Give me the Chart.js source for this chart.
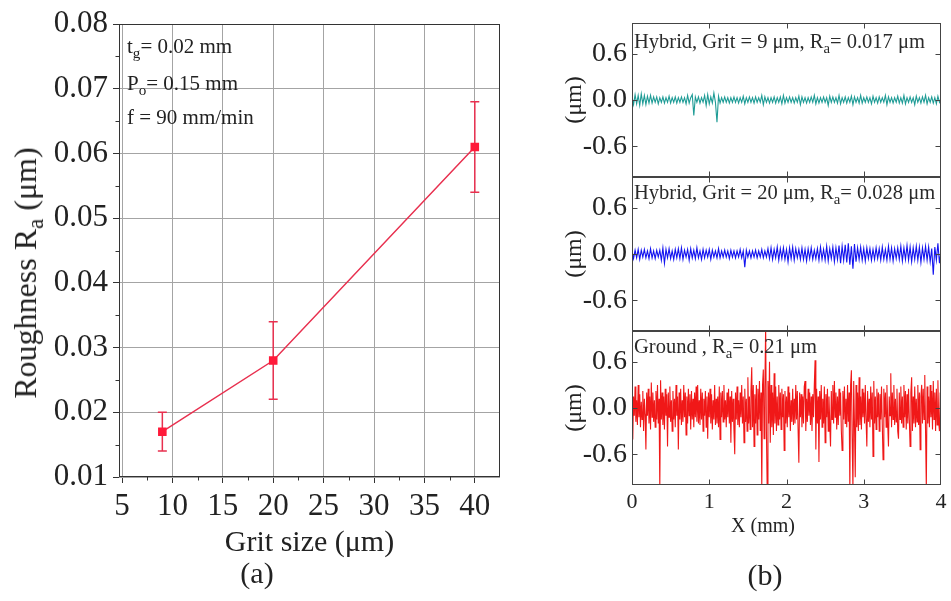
<!DOCTYPE html>
<html>
<head>
<meta charset="utf-8">
<script src="https://cdn.jsdelivr.net/npm/chart.js@4.4.1/dist/chart.umd.min.js"></script>
<style>
html,body{margin:0;padding:0;background:#fff;}
#wrap{position:relative;width:951px;height:601px;overflow:hidden;font-family:'Liberation Serif','Times New Roman',serif;color:#222;}
#wrap canvas{position:absolute;left:0;top:0;}
.t{position:absolute;white-space:nowrap;line-height:1;}
.t sub{font-size:72%;vertical-align:baseline;position:relative;top:0.32em;}
.ann{font-size:21px;left:127px;}
.ptitle{font-size:20.5px;left:634px;color:#2a2a2a;}
</style>
</head>
<body>
<div id="wrap">
  <canvas id="chartA" width="951" height="601"></canvas>
  <canvas id="chartB1" width="951" height="601"></canvas>
  <canvas id="chartB2" width="951" height="601"></canvas>
  <canvas id="chartB3" width="951" height="601"></canvas>

  <div class="t ann" style="top:36px">t<sub>g</sub>= 0.02 mm</div>
  <div class="t ann" style="top:73px">P<sub>o</sub>= 0.15 mm</div>
  <div class="t ann" style="top:107px">f = 90 mm/min</div>
  <div class="t" style="left:25px;top:273px;font-size:32px;transform:translate(-50%,-50%) rotate(-90deg);">Roughness R<sub>a</sub> (μm)</div>
  <div class="t" style="left:257px;top:558px;font-size:30px;transform:translateX(-50%);">(a)</div>

  <div class="t ptitle" style="top:31px">Hybrid, Grit = 9 μm, R<sub>a</sub>= 0.017 μm</div>
  <div class="t ptitle" style="top:182px">Hybrid, Grit = 20 μm, R<sub>a</sub>= 0.028 μm</div>
  <div class="t ptitle" style="top:336px">Ground , R<sub>a</sub>= 0.21 μm</div>
  <div class="t" style="left:763px;top:515px;font-size:20px;transform:translateX(-50%);">X (mm)</div>
  <div class="t" style="left:765px;top:560px;font-size:30px;transform:translateX(-50%);">(b)</div>
</div>
<script>
const FONT = "'Liberation Serif', 'Times New Roman', serif";

// ---- panel (a) data ----
const gritSizes = [9, 20, 40];
const roughnessRa = [0.017, 0.028, 0.061];
const roughnessErr = [0.003, 0.006, 0.007];
const gritTicks = [5, 10, 15, 20, 25, 30, 35, 40];
const gritMinorTicks = [7.5, 12.5, 17.5, 22.5, 27.5, 32.5, 37.5];
const raTicks = [0.01, 0.02, 0.03, 0.04, 0.05, 0.06, 0.07, 0.08];
const raMinorTicks = [0.015, 0.025, 0.035, 0.045, 0.055, 0.065, 0.075];

// ---- panel (b) data ----
const profileXTicks = [0, 1, 2, 3, 4];
const profileInnerXTicks = [1, 2, 3];
const profileYTicks = [-0.6, 0, 0.6];
const hybridStepMm = 0.02;
const groundStepMm = 0.01;

const hybrid9Profile = [
 0.04,-0.06,0.07,-0.05,0.06,-0.07,0.08,-0.05,0.06,-0.06,
 0.05,-0.04,0.06,-0.04,0.04,-0.03,0.04,-0.05,0.03,-0.03,
 0.04,-0.04,0.03,-0.03,0.05,-0.04,0.03,-0.03,0.04,-0.04,
 0.03,-0.03,0.04,-0.03,0.03,-0.05,0.06,-0.04,0.03,0.07,
 -0.2,0.04,-0.03,0.04,-0.04,0.03,-0.03,0.06,-0.07,0.07,
 -0.05,0.04,-0.04,0.09,-0.03,-0.29,0.05,-0.04,0.03,-0.03,
 0.04,-0.03,0.03,-0.04,0.03,-0.03,0.04,-0.03,0.03,-0.04,
 0.03,-0.03,0.05,-0.05,0.03,-0.03,0.04,-0.03,0.03,-0.04,
 0.04,-0.03,0.03,-0.03,0.06,-0.06,0.04,-0.03,0.03,-0.04,
 0.03,-0.03,0.04,-0.04,0.03,-0.03,0.04,-0.05,0.06,-0.04,
 0.03,-0.03,0.04,-0.03,0.03,-0.04,0.03,-0.03,0.05,-0.06,
 0.04,-0.03,0.03,-0.04,0.03,-0.03,0.04,-0.03,0.06,-0.05,
 0.03,-0.04,0.03,-0.03,0.04,-0.03,0.03,-0.07,0.05,-0.03,
 0.04,-0.03,0.03,-0.04,0.06,-0.05,0.03,-0.03,0.04,-0.04,
 0.03,-0.03,0.05,-0.06,0.04,-0.03,0.03,-0.04,0.06,-0.04,
 0.03,-0.03,0.04,-0.03,0.03,-0.05,0.05,-0.03,0.03,-0.04,
 0.04,-0.03,0.03,-0.03,0.06,-0.06,0.04,-0.03,0.03,-0.04,
 0.03,-0.03,0.05,-0.04,0.03,-0.04,0.06,-0.05,0.03,-0.03,
 0.04,-0.03,0.03,-0.06,0.05,-0.03,0.03,-0.04,0.04,-0.03,
 0.06,-0.05,0.03,-0.03,0.04,-0.04,0.03,-0.05,0.05,-0.03,
 0.02
];

const hybrid20Profile = [
 0.04,-0.06,0.05,-0.05,0.06,-0.07,0.05,-0.04,0.06,-0.05,
 0.04,-0.06,0.07,-0.05,0.04,-0.06,0.05,-0.04,0.05,-0.08,
 0.08,-0.12,0.06,-0.05,0.07,-0.06,0.04,-0.07,0.06,-0.05,
 0.07,-0.06,0.08,-0.07,0.05,-0.04,0.06,-0.08,0.07,-0.05,
 0.05,-0.06,0.08,-0.05,0.04,-0.07,0.06,-0.05,0.05,-0.04,
 0.06,-0.07,0.05,-0.04,0.04,-0.05,0.07,-0.05,0.04,-0.04,
 0.05,-0.04,0.04,-0.06,0.05,-0.04,0.04,-0.05,0.04,-0.04,
 0.06,-0.05,0.04,-0.17,0.05,-0.04,0.04,-0.05,0.04,-0.04,
 0.05,-0.05,0.04,-0.04,0.06,-0.05,0.04,-0.04,0.07,-0.06,
 0.08,-0.07,0.06,-0.05,0.09,-0.08,0.07,-0.06,0.08,-0.07,
 0.06,-0.1,0.08,-0.06,0.09,-0.08,0.07,-0.05,0.06,-0.07,
 0.08,-0.07,0.06,-0.09,0.07,-0.06,0.08,-0.07,0.05,-0.06,
 0.07,-0.08,0.09,-0.07,0.06,-0.08,0.1,-0.09,0.07,-0.06,
 0.09,-0.1,0.08,-0.07,0.11,-0.12,0.1,-0.08,0.12,-0.11,
 0.14,-0.14,0.1,-0.19,0.13,-0.1,0.08,-0.07,0.09,-0.08,
 0.07,-0.09,0.08,-0.06,0.07,-0.08,0.06,-0.07,0.08,-0.06,
 0.07,-0.08,0.09,-0.07,0.06,-0.08,0.1,-0.07,0.08,-0.09,
 0.07,-0.06,0.08,-0.07,0.1,-0.09,0.08,-0.07,0.11,-0.08,
 0.09,-0.1,0.08,-0.07,0.1,-0.08,0.09,-0.11,0.08,-0.07,
 0.1,-0.08,0.09,-0.1,0.07,-0.27,0.09,-0.08,0.14,-0.12,
 0.05
];

const groundProfile = [
 0.05,-0.41,0.15,-0.1,0.28,-0.18,0.1,-0.22,0.3,-0.12,
 0.18,-0.25,0.08,-0.15,0.22,-0.3,0.12,-0.08,-0.54,0.2,
 -0.1,0.25,-0.2,0.15,-0.28,0.33,-0.12,0.2,-0.18,0.1,
 -0.25,0.22,-0.15,0.3,-0.2,0.12,-1.05,0.36,-0.15,0.2,
 -0.22,0.15,-0.28,0.25,-0.1,0.18,-0.5,0.2,-0.12,0.28,
 -0.18,0.1,-0.3,0.22,-0.15,0.12,-0.25,0.3,-0.1,0.15,
 -0.54,0.2,-0.15,0.25,-0.22,0.1,-0.18,0.3,-0.12,0.2,
 -0.35,0.15,-0.2,0.25,-0.1,0.18,-0.28,0.22,-0.15,0.12,
 -0.25,0.2,-0.12,0.28,-0.18,0.3,-0.2,0.1,-0.22,0.25,
 -0.15,0.2,-0.3,0.12,-0.1,0.22,-0.25,0.15,-0.4,0.2,
 -0.12,0.25,-0.2,0.18,-0.28,0.1,-0.15,0.3,-0.22,0.12,
 -0.2,0.15,-0.25,0.28,-0.41,0.2,-0.12,0.22,-0.18,0.3,
 -0.15,0.1,-0.25,0.2,-0.12,0.25,-0.2,0.15,-0.45,0.22,
 -0.18,0.12,-0.3,-0.6,0.2,-0.15,0.28,-0.22,0.1,-0.25,
 0.2,-0.12,0.3,-0.2,0.15,-0.45,0.25,-0.18,0.12,-0.3,
 0.4,-0.2,0.15,-0.28,0.22,0.53,-0.25,0.3,-0.5,0.18,
 -0.2,0.3,-0.35,0.25,-0.15,0.35,-0.3,0.2,-1.05,0.3,
 0.5,-0.4,0.25,1.05,-0.3,-1.05,0.35,-0.2,0.6,-0.45,
 0.3,-0.25,0.2,-0.35,0.45,-0.2,0.28,-0.3,0.15,-0.22,
 0.3,-0.15,0.2,-0.28,0.25,-0.12,0.18,-0.55,0.22,-0.2,
 0.15,-0.25,0.28,-0.12,0.2,-0.3,0.1,-0.18,0.25,-0.22,
 0.12,-0.2,0.3,-0.15,0.22,-0.28,-0.71,0.2,-0.12,0.18,
 -0.25,0.15,-0.2,0.28,0.35,-0.3,0.12,-0.18,0.25,-0.1,
 0.2,-0.22,0.15,-0.3,0.18,-0.12,0.3,0.62,-0.54,0.25,
 -0.2,0.15,-0.7,0.22,-0.15,0.3,-0.25,0.12,-0.2,0.28,
 -0.45,0.18,-0.12,0.25,-0.3,0.15,-0.2,-0.5,0.22,-0.15,
 0.3,-0.2,0.35,-0.12,0.2,-0.28,0.15,-0.22,0.25,-0.1,
 0.2,-0.3,-0.55,0.22,-0.15,0.28,-0.2,0.12,-0.25,0.3,
 -0.18,0.2,-1.05,0.3,0.49,-0.4,-1.05,0.35,-0.2,-0.9,
 0.3,-0.25,0.2,-0.3,0.4,-0.22,0.15,-0.28,0.25,-0.12,
 0.2,-0.2,0.3,-0.15,-0.5,0.22,-0.18,0.12,-0.25,0.28,
 -0.15,0.2,-0.63,0.35,-0.2,0.15,-0.28,0.25,-0.12,0.2,
 -0.3,0.18,-0.15,0.28,-0.22,-0.67,0.25,-0.12,0.2,-0.25,
 0.3,-0.2,-0.5,0.15,-0.1,0.45,-0.25,0.2,-0.15,0.3,
 -0.22,0.12,-0.18,0.25,-0.3,-0.4,0.2,-0.15,0.28,-0.2,
 0.15,-0.25,0.3,-0.12,0.22,-0.28,0.18,-0.2,0.25,-0.15,
 -0.5,0.2,0.4,-0.3,0.15,-0.2,0.28,-0.25,0.12,-0.18,
 0.3,-0.22,0.2,-0.54,0.15,0.3,-0.2,0.25,-0.15,0.43,
 -0.3,-1.05,0.28,-0.2,0.15,-0.25,0.3,-0.12,0.22,-0.28,
 0.35,-0.15,0.2,-0.3,0.25,-0.22,0.36,-0.18,-0.3,0.2,
 0.05
];

// ---- plugins ----
function makeFrame(cfg) {
  return {
    id: 'frame',
    afterDatasetsDraw(chart) {
      const {ctx, chartArea: a, scales} = chart;
      const L = Math.round(a.left) + 0.5, R = Math.round(a.right) - 0.5;
      const T = Math.round(a.top) + 0.5, B = Math.round(a.bottom) - 0.5;
      ctx.save();
      ctx.strokeStyle = cfg.color;
      ctx.lineWidth = 1;
      ctx.strokeRect(L, T, R - L, B - T);
      ctx.beginPath();
      (cfg.xTicks || []).forEach(v => {
        const px = Math.round(scales.x.getPixelForValue(v)) + 0.5;
        ctx.moveTo(px, B); ctx.lineTo(px, B + cfg.len);
        if (cfg.mirror) { ctx.moveTo(px, T); ctx.lineTo(px, T - cfg.len); }
      });
      (cfg.yTicks || []).forEach(v => {
        const py = Math.round(scales.y.getPixelForValue(v)) + 0.5;
        ctx.moveTo(L, py); ctx.lineTo(L - cfg.len, py);
        if (cfg.mirror) { ctx.moveTo(R, py); ctx.lineTo(R + cfg.len, py); }
      });
      ctx.stroke();
      ctx.restore();
    }
  };
}

function makeErrorBars(xs, ys, errs, color) {
  return {
    id: 'errorBars',
    beforeDatasetsDraw(chart) {
      const {ctx, scales: {x, y}} = chart;
      ctx.save();
      ctx.strokeStyle = color;
      ctx.lineWidth = 1.5;
      ctx.beginPath();
      xs.forEach((xv, i) => {
        const px = x.getPixelForValue(xv);
        const pt = y.getPixelForValue(ys[i] + errs[i]);
        const pb = y.getPixelForValue(ys[i] - errs[i]);
        ctx.moveTo(px, pt); ctx.lineTo(px, pb);
        ctx.moveTo(px - 4.5, pt); ctx.lineTo(px + 4.5, pt);
        ctx.moveTo(px - 4.5, pb); ctx.lineTo(px + 4.5, pb);
      });
      ctx.stroke();
      ctx.restore();
    }
  };
}

// ---- chart (a) ----
new Chart(document.getElementById('chartA'), {
  type: 'line',
  data: {
    datasets: [{
      label: 'Roughness Ra',
      data: gritSizes.map((g, i) => ({x: g, y: roughnessRa[i]})),
      borderColor: '#e8304f',
      borderWidth: 1.5,
      pointStyle: 'rect',
      pointRadius: 5,
      pointBackgroundColor: '#ff1a3a',
      pointBorderColor: '#ff1a3a',
      tension: 0
    }]
  },
  options: {
    responsive: false,
    animation: false,
    events: [],
    layout: {padding: {left: 0, top: 24, right: 451, bottom: 34}},
    plugins: {legend: {display: false}, tooltip: {enabled: false}},
    scales: {
      x: {
        type: 'linear', min: 4.7, max: 42.5,
        afterBuildTicks: s => { s.ticks = gritTicks.map(v => ({value: v})); },
        afterFit: s => { s.height = 90; },
        ticks: {font: {family: FONT, size: 31}, color: '#222', padding: 5, maxRotation: 0, autoSkip: false, callback: v => String(v)},
        grid: {color: '#a4a4a4', lineWidth: 1, tickLength: 6, tickColor: '#333', drawTicks: true},
        border: {display: false},
        title: {display: true, text: 'Grit size (μm)', font: {family: FONT, size: 30}, color: '#222', padding: {top: 0, bottom: 6}}
      },
      y: {
        type: 'linear', min: 0.01, max: 0.08,
        afterBuildTicks: s => { s.ticks = raTicks.map(v => ({value: v})); },
        afterFit: s => { s.width = 119; },
        ticks: {font: {family: FONT, size: 31}, color: '#222', padding: 5, autoSkip: false, callback: v => v.toFixed(2)},
        grid: {color: '#a4a4a4', lineWidth: 1, tickLength: 6, tickColor: '#333', drawTicks: true},
        border: {display: false}
      }
    }
  },
  plugins: [
    makeFrame({color: '#333', xTicks: gritMinorTicks, yTicks: raMinorTicks, len: 4, mirror: false}),
    makeErrorBars(gritSizes, roughnessRa, roughnessErr, '#e8304f')
  ]
});

// ---- charts (b) ----
function profileChart(id, values, stepMm, color, top, bottom, showX) {
  return new Chart(document.getElementById(id), {
    type: 'line',
    data: {
      datasets: [{
        data: values.map((v, i) => ({x: i * stepMm, y: v})),
        borderColor: color,
        borderWidth: 1.1,
        pointRadius: 0,
        tension: 0
      }]
    },
    options: {
      responsive: false,
      animation: false,
      events: [],
      layout: {padding: {left: 560, top: top, right: 10, bottom: 601 - bottom - (showX ? 40 : 0)}},
      plugins: {legend: {display: false}, tooltip: {enabled: false}},
      scales: {
        x: {
          type: 'linear', min: 0, max: 4, display: showX,
          afterBuildTicks: s => { s.ticks = profileXTicks.map(v => ({value: v})); },
          afterFit: s => { s.height = showX ? 40 : 0; },
          ticks: {font: {family: FONT, size: 22}, color: '#222', padding: 4, maxRotation: 0, autoSkip: false, callback: v => String(v)},
          grid: {display: false, drawTicks: false},
          border: {display: false}
        },
        y: {
          type: 'linear', min: -1, max: 1,
          afterBuildTicks: s => { s.ticks = profileYTicks.map(v => ({value: v})); },
          afterFit: s => { s.width = 72; },
          ticks: {font: {family: FONT, size: 28}, color: '#222', padding: 5, autoSkip: false, callback: v => v.toFixed(1)},
          grid: {display: false, drawTicks: false},
          border: {display: false},
          title: {display: true, text: '(μm)', font: {family: FONT, size: 24}, color: '#222', padding: {top: 0, bottom: 0}}
        }
      }
    },
    plugins: [makeFrame({color: '#444', xTicks: profileInnerXTicks, yTicks: profileYTicks, len: -5, mirror: true})]
  });
}

profileChart('chartB1', hybrid9Profile, hybridStepMm, '#1f9c96', 23, 177, false);
profileChart('chartB2', hybrid20Profile, hybridStepMm, '#1414f0', 177, 331, false);
profileChart('chartB3', groundProfile, groundStepMm, '#f01818', 331, 485, true);
</script>
</body>
</html>
